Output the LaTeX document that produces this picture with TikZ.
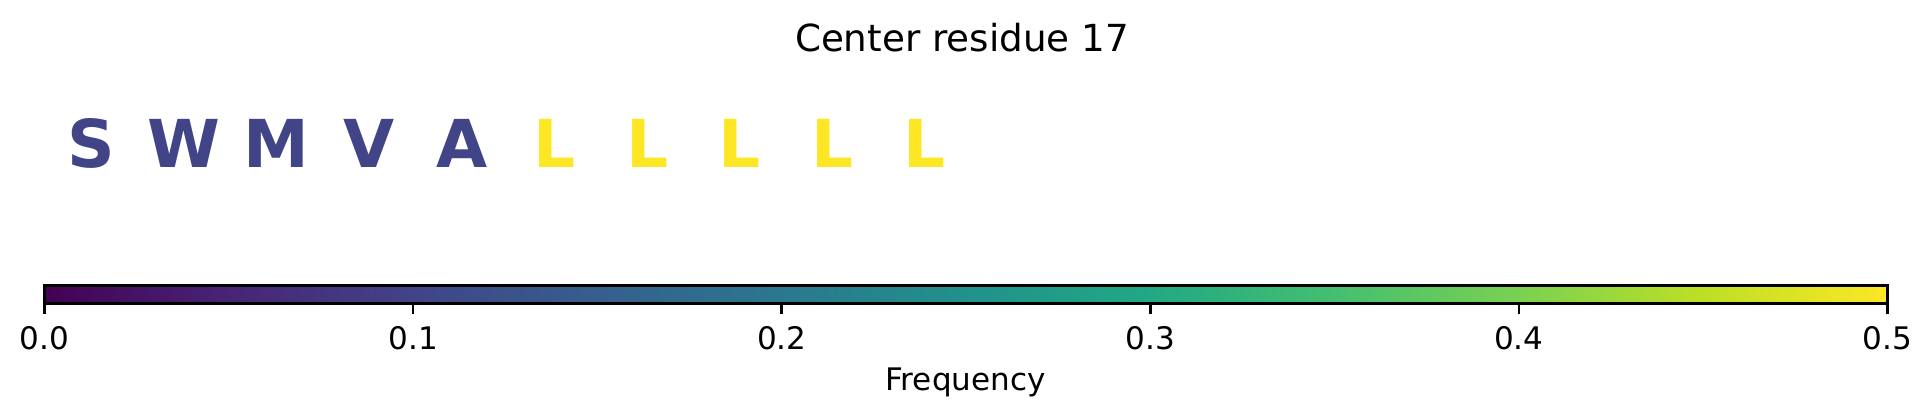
\documentclass[tikz,border=0pt]{standalone}
\usepackage{fontspec}
\setmainfont{DejaVu Sans}
\definecolor{vblue}{HTML}{414487}
\definecolor{vyellow}{HTML}{FDE725}
\pgfdeclarehorizontalshading{viridis}{100bp}{%
rgb(0bp)=(0.267,0.004,0.329);
rgb(25bp)=(0.267,0.004,0.329);
rgb(30bp)=(0.282,0.141,0.459);
rgb(35bp)=(0.255,0.267,0.529);
rgb(40bp)=(0.208,0.373,0.553);
rgb(45bp)=(0.165,0.471,0.557);
rgb(50bp)=(0.129,0.569,0.549);
rgb(55bp)=(0.133,0.659,0.518);
rgb(60bp)=(0.267,0.749,0.439);
rgb(65bp)=(0.478,0.820,0.318);
rgb(70bp)=(0.741,0.875,0.149);
rgb(75bp)=(0.992,0.906,0.145);
rgb(100bp)=(0.992,0.906,0.145)}
\tikzset{
  resletter/.style={anchor=base,inner sep=0pt,font=\fontsize{21.8pt}{24pt}\selectfont\bfseries},
  ticklab/.style={anchor=base,inner sep=0pt,font=\fontsize{10.25pt}{12pt}\selectfont},
  titlelab/.style={anchor=base,inner sep=0pt,font=\fontsize{12.3pt}{14pt}\selectfont},
  tickmark/.style={line width=0.8pt}
}
\begin{document}
\begin{tikzpicture}[x=0.33pt,y=-0.33pt]
\useasboundingbox (0,0) rectangle (1932,416);
\node[titlelab] (title) at (962,51) {Center residue 17};
% residue letters
\foreach \ch/\col [count=\i from 0] in {S/vblue,W/vblue,M/vblue,V/vblue,A/vblue,L/vyellow,L/vyellow,L/vyellow,L/vyellow,L/vyellow}{
  \node[resletter,text=\col] (res\i) at ({91.6+\i*92.6},167.7) {\ch};
}
% colorbar
\shade[shading=viridis] (44.5,285.5) rectangle (1887.5,303.5);
\draw[line width=0.8pt] (44.5,285.5) rectangle (1887.5,303.5);
\foreach \lab [count=\i from 0] in {0.0,0.1,0.2,0.3,0.4,0.5}{
  \coordinate (t\i) at ({44.5+\i*368.6},303.5);
  \draw[tickmark] (t\i) -- ++(0,10.5);
  \node[ticklab] (tl\i) at ({44.5+\i*368.6},349) {\lab};
}
\node[ticklab] (freq) at (965.5,390) {Frequency};
\end{tikzpicture}
\end{document}
